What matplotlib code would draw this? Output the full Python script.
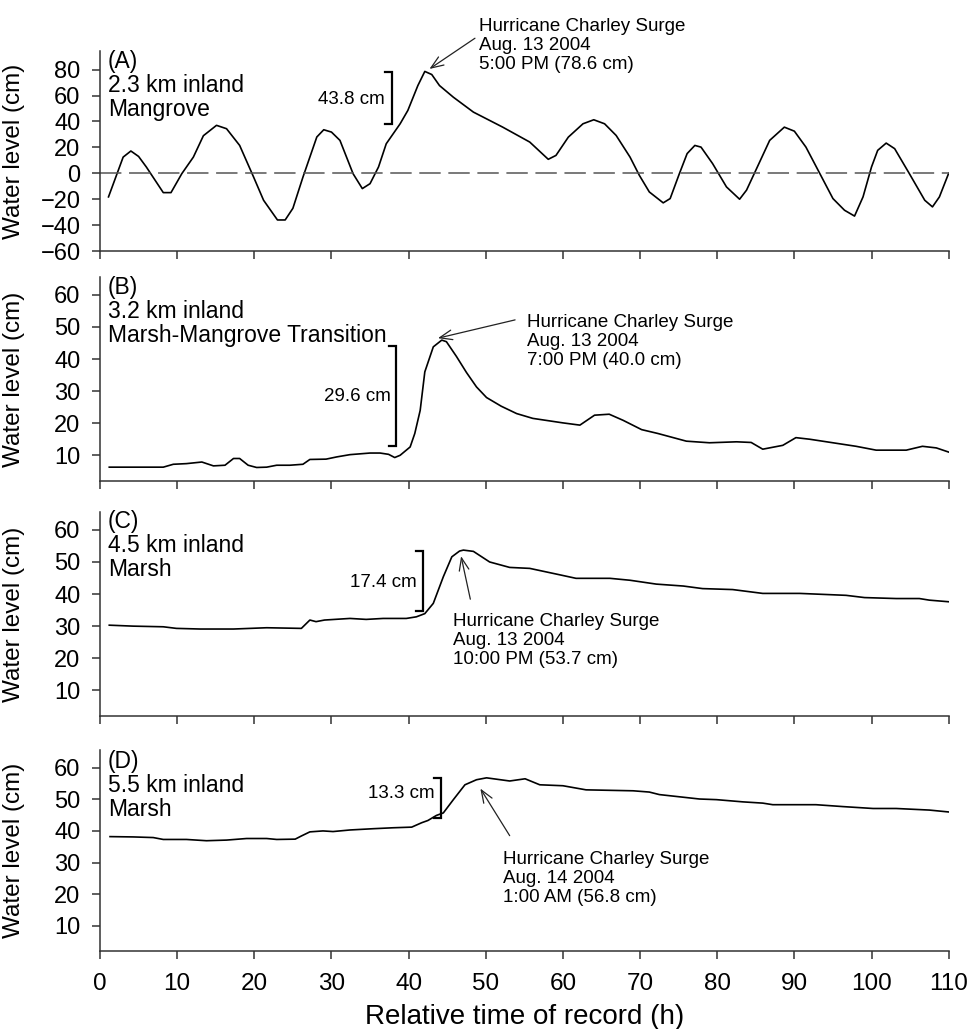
import matplotlib
matplotlib.use("Agg")
import matplotlib.pyplot as plt

plt.rcParams['font.family'] = ['Liberation Sans', 'DejaVu Sans']

# ---- data (hours, water level cm) ----
a_hours = [1.1, 3.0, 4.0, 5.0, 6.0, 8.2, 9.2, 10.6, 12.1, 13.4, 15.1, 16.4, 18.1, 19.9, 21.2,
           23.0, 24.0, 25.0, 26.3, 28.1, 29.0, 30.0, 31.1, 32.8, 34.0, 35.0, 36.1, 37.1, 38.9,
           39.9, 41.2, 42.1, 43.0, 44.0, 45.8, 48.4, 52.2, 55.7, 58.1, 59.1, 60.7, 62.6, 64.0,
           65.4, 66.9, 68.7, 69.9, 71.2, 73.0, 73.9, 75.1, 76.1, 77.1, 77.9, 79.4, 81.2, 82.9,
           83.8, 85.1, 86.8, 88.7, 90.0, 91.5, 93.3, 95.0, 96.5, 97.8, 98.9, 100.0, 100.8,
           101.9, 103.0, 104.9, 106.9, 107.9, 108.8, 110.0]
a_level = [-18.2, 12.5, 17.2, 13.0, 4.9, -14.9, -14.9, -0.3, 12.5, 29.0, 37.0, 34.4, 21.5, -2.8,
           -20.8, -36.0, -36.0, -27.0, -3.0, 28.0, 33.6, 31.8, 25.4, -0.3, -11.8, -8.0, 4.9, 22.8,
           38.2, 48.5, 67.7, 78.6, 76.2, 67.7, 58.7, 47.2, 35.6, 24.1, 10.8, 13.8, 27.9, 38.2,
           41.3, 38.2, 29.2, 12.5, -1.5, -14.4, -22.8, -19.5, -0.2, 15.2, 21.5, 20.2, 7.5, -10.5,
           -20.0, -13.0, 3.6, 25.4, 35.6, 32.5, 20.2, -0.2, -19.5, -28.5, -33.0, -18.2, 4.9,
           17.7, 23.3, 19.0, -0.2, -20.8, -25.9, -18.2, 0.0]

b_hours = [1.2, 4.3, 8.2, 9.5, 11.2, 13.2, 14.7, 16.2, 17.3, 18.1, 19.2, 20.3, 21.6, 22.9, 24.6,
           26.3, 27.2, 29.3, 30.7, 32.4, 35.0, 36.3, 37.4, 38.2, 38.9, 40.2, 40.8, 41.5, 42.1,
           43.2, 44.3, 44.9, 46.2, 47.5, 48.8, 50.1, 52.0, 54.0, 56.1, 60.0, 62.2, 64.1, 66.0,
           67.8, 70.2, 72.3, 76.0, 79.0, 82.5, 84.4, 85.9, 88.5, 90.2, 92.0, 95.0, 98.0, 100.6,
           104.5, 106.6, 108.4, 110.0]
b_level = [6.3, 6.3, 6.3, 7.2, 7.4, 7.9, 6.7, 6.9, 9.0, 9.0, 6.9, 6.2, 6.3, 6.9, 6.9, 7.2, 8.7,
           8.8, 9.5, 10.2, 10.7, 10.7, 10.3, 9.3, 10.0, 12.6, 16.8, 24.0, 36.0, 43.8, 45.9, 45.4,
           40.8, 35.8, 31.3, 28.0, 25.3, 23.0, 21.5, 20.1, 19.4, 22.5, 22.8, 20.9, 18.0, 16.8,
           14.4, 13.9, 14.2, 14.0, 11.9, 13.1, 15.5, 15.0, 13.9, 12.8, 11.6, 11.6, 12.8, 12.3,
           11.0]

c_hours = [1.2, 4.3, 8.2, 9.9, 13.0, 17.3, 21.6, 26.1, 27.2, 28.0, 29.1, 32.4, 34.5, 36.7, 39.7,
           41.0, 42.1, 43.2, 44.5, 45.6, 46.6, 47.1, 48.4, 50.5, 53.1, 55.7, 59.2, 61.7, 66.1,
           68.7, 72.1, 75.6, 78.1, 82.0, 85.9, 90.7, 96.7, 99.1, 103.2, 106.2, 107.5, 110.0]
c_level = [30.3, 30.0, 29.8, 29.3, 29.1, 29.1, 29.5, 29.3, 31.9, 31.4, 31.9, 32.4, 32.1, 32.4,
           32.4, 32.9, 33.9, 37.1, 45.4, 51.6, 53.4, 53.7, 53.3, 50.0, 48.3, 48.0, 46.2, 44.9,
           44.9, 44.3, 43.1, 42.5, 41.7, 41.4, 40.2, 40.2, 39.6, 38.9, 38.6, 38.6, 38.1, 37.6]

d_hours = [1.3, 4.3, 6.9, 8.2, 11.2, 13.8, 16.4, 19.0, 21.6, 22.9, 25.3, 26.1, 27.2, 28.9, 30.2,
           32.4, 35.4, 38.0, 40.4, 41.7, 42.5, 43.6, 44.5, 45.8, 47.3, 48.8, 50.1, 53.1, 55.1,
           57.0, 60.0, 63.0, 69.1, 71.2, 72.5, 77.7, 79.9, 83.3, 85.9, 87.2, 92.8, 96.3, 100.2,
           103.2, 107.5, 110.0]
d_level = [38.2, 38.1, 37.9, 37.3, 37.3, 36.9, 37.1, 37.6, 37.6, 37.3, 37.4, 38.4, 39.7, 40.0,
           39.8, 40.3, 40.7, 41.0, 41.2, 42.6, 43.3, 44.9, 45.7, 49.9, 54.6, 56.2, 56.8, 55.8,
           56.5, 54.6, 54.3, 53.0, 52.7, 52.3, 51.5, 50.1, 49.9, 49.2, 48.8, 48.3, 48.3, 47.7,
           47.1, 47.1, 46.6, 46.0]

panel_ids = ["(A)", "(B)", "(C)", "(D)"]
sites = ["2.3 km inland\nMangrove", "3.2 km inland\nMarsh-Mangrove Transition",
         "4.5 km inland\nMarsh", "5.5 km inland\nMarsh"]
surge_notes = ["Hurricane Charley Surge\nAug. 13 2004\n5:00 PM (78.6 cm)",
               "Hurricane Charley Surge\nAug. 13 2004\n7:00 PM (40.0 cm)",
               "Hurricane Charley Surge\nAug. 13 2004\n10:00 PM (53.7 cm)",
               "Hurricane Charley Surge\nAug. 14 2004\n1:00 AM (56.8 cm)"]
rise_labels = ["43.8 cm", "29.6 cm", "17.4 cm", "13.3 cm"]

series = [(a_hours, a_level), (b_hours, b_level), (c_hours, c_level), (d_hours, d_level)]

# layout / annotation placement
rects = [[0.103, 0.756, 0.874, 0.194], [0.103, 0.5326, 0.874, 0.198],
         [0.103, 0.3042, 0.874, 0.198], [0.103, 0.0758, 0.874, 0.195]]
ylims = [(-60, 94), (2, 65.5), (2, 65.5), (2, 65.5)]
yticks = [list(range(-60, 81, 20)), [10, 20, 30, 40, 50, 60],
          [10, 20, 30, 40, 50, 60], [10, 20, 30, 40, 50, 60]]
label_top = [1.005, 1.005, 1.01, 1.0]
note_xy = [(49.1, 98.4), (55.4, 45.4), (45.7, 25.6), (52.2, 24.9)]
arrow_head = [(42.7, 80.5), (43.8, 46.5), (46.8, 51.8), (49.3, 53.4)]
arrow_tail = [(48.6, 104.2), (53.8, 52.2), (48.0, 38.4), (53.1, 38.5)]
brackets = [(37.8, 38.4, 77.9), (38.4, 12.8, 44.1), (41.8, 34.6, 53.5), (44.2, 44.0, 56.6)]
rise_xy = [(36.9, 57.0), (37.7, 28.2), (41.1, 43.6), (43.4, 51.7)]

fig = plt.figure(figsize=(9.71, 10.29), dpi=100)
spine_col = '#333333'

for i in range(4):
    ax = fig.add_axes(rects[i])
    hrs, lvl = series[i]
    ax.plot(hrs, lvl, color='black', lw=1.2)
    if i == 0:
        ax.axhline(0, color='#555555', lw=1.1, dashes=(14, 5))
    ax.set_xlim(0, 110)
    ax.set_ylim(*ylims[i])
    ax.set_yticks(yticks[i])
    ax.set_xticks(range(0, 111, 10))
    for s in ['top', 'right']:
        ax.spines[s].set_visible(False)
    for s in ['left', 'bottom']:
        ax.spines[s].set_color(spine_col)
        ax.spines[s].set_linewidth(1.1)
    ax.tick_params(direction='out', length=6, width=1.1, color=spine_col)
    ax.tick_params(axis='y', labelsize=17, pad=8)
    ax.tick_params(axis='x', labelsize=17.5, pad=10)
    if i < 3:
        ax.tick_params(axis='x', labelbottom=False)
    ax.set_ylabel('Water level (cm)', fontsize=17.5, labelpad=6)
    ax.yaxis.set_label_coords(-0.088, 0.5)

    ax.text(0.0095, label_top[i], panel_ids[i] + "\n" + sites[i], transform=ax.transAxes,
            ha='left', va='top', fontsize=16.5, linespacing=1.05)

    ax.text(note_xy[i][0], note_xy[i][1], surge_notes[i], ha='left', va='center',
            fontsize=13.5, linespacing=1.15, clip_on=False)
    ax.annotate('', xy=arrow_head[i], xytext=arrow_tail[i], annotation_clip=False,
                arrowprops=dict(arrowstyle='->,head_length=0.9,head_width=0.35',
                                color='#222222', lw=0.9, shrinkA=0, shrinkB=0))

    bx, b0, b1 = brackets[i]
    ax.plot([bx - 0.9, bx, bx, bx - 0.9], [b0, b0, b1, b1], color='black', lw=1.6,
            solid_joinstyle='miter', clip_on=False)
    ax.text(rise_xy[i][0], rise_xy[i][1], rise_labels[i], ha='right', va='center',
            fontsize=13.5)

ax.set_xlabel('Relative time of record (h)', fontsize=20, labelpad=6)

fig.savefig('out.png', dpi=100)
